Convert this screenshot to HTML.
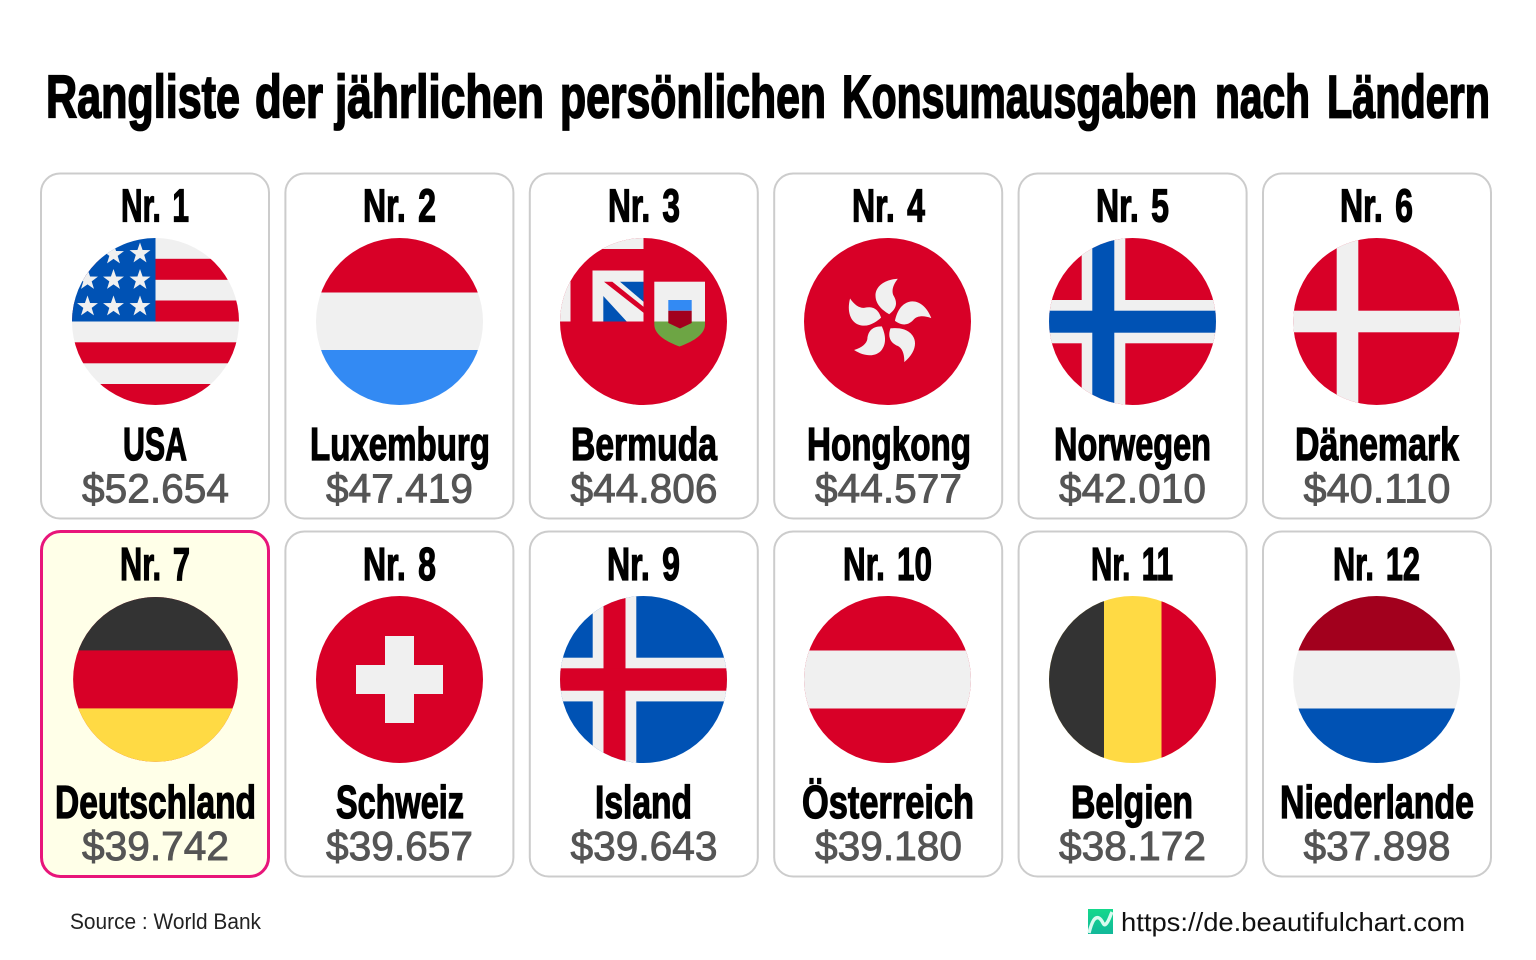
<!DOCTYPE html>
<html lang="de">
<head>
<meta charset="utf-8">
<title>Rangliste der jährlichen persönlichen Konsumausgaben nach Ländern</title>
<style>
html,body{margin:0;padding:0;background:#fff;width:1536px;height:960px;overflow:hidden}
svg{display:block}
text{font-family:"Liberation Sans",sans-serif}
.title{font-size:60px;font-weight:700;fill:#000;stroke:#000;stroke-width:1.8px}
.rank{font-size:46px;font-weight:700;fill:#000;stroke:#000;stroke-width:1.3px;word-spacing:5px}
.name{font-size:46px;font-weight:700;fill:#000;stroke:#000;stroke-width:1.3px}
.value{font-size:41px;fill:#555;stroke:#555;stroke-width:.9px}
.card{fill:#fff;stroke:#ccc;stroke-width:2}
.r{fill:#d80027}.w{fill:#f0f0f0}.b{fill:#0052b4}.l{fill:#338af3}.k{fill:#333}.y{fill:#ffda44}.m{fill:#a2001d}.g{fill:#6da544}
</style>
</head>
<body>
<svg xmlns="http://www.w3.org/2000/svg" width="1536" height="960" viewBox="0 0 1536 960">
<defs>
<clipPath id="c"><circle cx="0" cy="0" r="83.5"/></clipPath>
<clipPath id="cde"><circle cx="0" cy="0" r="82.4"/></clipPath>
<linearGradient id="lg" x1="0" y1="0" x2="0" y2="1"><stop offset="0" stop-color="#14d98c"/><stop offset="1" stop-color="#12b89a"/></linearGradient>
<polygon id="star" points="0,-11 2.59,-3.56 10.46,-3.4 4.18,1.36 6.47,8.9 0,4.4 -6.47,8.9 -4.18,1.36 -10.46,-3.4 -2.59,-3.56"/>
<path id="petal" d="M1.7,-7.3 C-3,-10 -12,-16 -12,-26 C-12,-35 -3,-42 10.3,-42.7 C5,-36 4,-30 6,-26 C9,-21 11,-14 1.7,-7.3 Z"/>
</defs>

<rect x="0" y="0" width="1536" height="960" fill="#fff"/>
<text class="title" y="117.5"><tspan x="46" textLength="194" lengthAdjust="spacingAndGlyphs">Rangliste</tspan> <tspan x="255" textLength="68" lengthAdjust="spacingAndGlyphs">der</tspan> <tspan x="335" textLength="209" lengthAdjust="spacingAndGlyphs">jährlichen</tspan> <tspan x="560" textLength="266" lengthAdjust="spacingAndGlyphs">persönlichen</tspan> <tspan x="842" textLength="355" lengthAdjust="spacingAndGlyphs">Konsumausgaben</tspan> <tspan x="1215" textLength="95" lengthAdjust="spacingAndGlyphs">nach</tspan> <tspan x="1327" textLength="163" lengthAdjust="spacingAndGlyphs">Ländern</tspan></text>

<!-- Nr 1 -->
<g>
<rect class="card" x="41" y="173.5" width="228" height="345" rx="19"/>
<text class="rank" x="121" y="221.5" textLength="68" lengthAdjust="spacingAndGlyphs">Nr. 1</text>
<g transform="translate(155.5,321.5)" clip-path="url(#c)">
<rect class="w" x="-84" y="-84" width="168" height="168"/>
<rect class="r" x="-84" y="-62.7" width="168" height="21"/>
<rect class="r" x="-84" y="-21" width="168" height="21"/>
<rect class="r" x="-84" y="20.8" width="168" height="21"/>
<rect class="r" x="-84" y="62.5" width="168" height="22"/>
<rect class="b" x="-84" y="-84" width="84" height="84"/>
<g class="w">
<use href="#star" x="-15.5" y="-68"/><use href="#star" x="-42" y="-67"/>
<use href="#star" x="-15.5" y="-41.5"/><use href="#star" x="-42" y="-41.5"/><use href="#star" x="-68" y="-41.5"/>
<use href="#star" x="-15.5" y="-15"/><use href="#star" x="-42" y="-15"/><use href="#star" x="-68" y="-15"/>
</g>
</g>
<text class="name" x="123" y="460" textLength="64" lengthAdjust="spacingAndGlyphs">USA</text>
<text class="value" x="82" y="502.5" textLength="147" lengthAdjust="spacingAndGlyphs">$52.654</text>
</g>

<!-- Nr 2 -->
<g>
<rect class="card" x="285.4" y="173.5" width="228" height="345" rx="19"/>
<text class="rank" x="363" y="221.5" textLength="73" lengthAdjust="spacingAndGlyphs">Nr. 2</text>
<g transform="translate(399.5,321.5)" clip-path="url(#c)">
<rect class="w" x="-84" y="-84" width="168" height="168"/>
<rect class="r" x="-84" y="-84" width="168" height="55"/>
<rect class="l" x="-84" y="28.5" width="168" height="56"/>
</g>
<text class="name" x="310" y="460" textLength="180" lengthAdjust="spacingAndGlyphs">Luxemburg</text>
<text class="value" x="326" y="502.5" textLength="147" lengthAdjust="spacingAndGlyphs">$47.419</text>
</g>

<!-- Nr 3 -->
<g>
<rect class="card" x="529.8" y="173.5" width="228" height="345" rx="19"/>
<text class="rank" x="608" y="221.5" textLength="72" lengthAdjust="spacingAndGlyphs">Nr. 3</text>
<g transform="translate(643.5,321.5)" clip-path="url(#c)">
<rect class="r" x="-84" y="-84" width="168" height="168"/>
<rect class="w" x="-84" y="-84" width="84" height="11.5"/>
<rect class="w" x="-84" y="-41.5" width="11" height="41.5"/>
<rect class="w" x="-51" y="-51" width="51" height="51"/>
<polygon class="b" points="-23.5,-39.8 0,-39.8 0,-19.8"/>
<polygon class="b" points="-40.2,-25.5 -40.2,0 -16.8,0"/>
<polygon class="r" points="-39.5,-39.8 -31.2,-39.8 0,-14.8 0,-8.8"/>
<rect class="w" x="10.8" y="-39.8" width="50.7" height="40"/>
<path class="g" d="M10.8 0H61.5V3C61.5 14 47 21 36 25C25 21 10.8 14 10.8 3Z"/>
<rect class="l" x="24.8" y="-21.5" width="23.4" height="10.7"/>
<polygon class="m" points="24.8,-10.8 48.2,-10.8 48.2,1.5 36.5,7 24.8,1.5"/>
</g>
<text class="name" x="571" y="460" textLength="146" lengthAdjust="spacingAndGlyphs">Bermuda</text>
<text class="value" x="570.5" y="502.5" textLength="147" lengthAdjust="spacingAndGlyphs">$44.806</text>
</g>

<!-- Nr 4 -->
<g>
<rect class="card" x="774.2" y="173.5" width="228" height="345" rx="19"/>
<text class="rank" x="852" y="221.5" textLength="73" lengthAdjust="spacingAndGlyphs">Nr. 4</text>
<g transform="translate(887.5,321.5)" clip-path="url(#c)">
<rect class="r" x="-84" y="-84" width="168" height="168"/>
<g class="w">
<use href="#petal"/>
<use href="#petal" transform="rotate(72)"/>
<use href="#petal" transform="rotate(144)"/>
<use href="#petal" transform="rotate(216)"/>
<use href="#petal" transform="rotate(288)"/>
</g>
</g>
<text class="name" x="807" y="460" textLength="164" lengthAdjust="spacingAndGlyphs">Hongkong</text>
<text class="value" x="815" y="502.5" textLength="147" lengthAdjust="spacingAndGlyphs">$44.577</text>
</g>

<!-- Nr 5 -->
<g>
<rect class="card" x="1018.6" y="173.5" width="228" height="345" rx="19"/>
<text class="rank" x="1096" y="221.5" textLength="73" lengthAdjust="spacingAndGlyphs">Nr. 5</text>
<g transform="translate(1132.5,321.5)" clip-path="url(#c)">
<rect class="r" x="-84" y="-84" width="168" height="168"/>
<rect class="w" x="-50.8" y="-84" width="43.6" height="168"/>
<rect class="w" x="-84" y="-21.5" width="168" height="43.3"/>
<rect class="b" x="-40.2" y="-84" width="22" height="168"/>
<rect class="b" x="-84" y="-10.8" width="168" height="22"/>
</g>
<text class="name" x="1054" y="460" textLength="157" lengthAdjust="spacingAndGlyphs">Norwegen</text>
<text class="value" x="1059" y="502.5" textLength="147" lengthAdjust="spacingAndGlyphs">$42.010</text>
</g>

<!-- Nr 6 -->
<g>
<rect class="card" x="1263" y="173.5" width="228" height="345" rx="19"/>
<text class="rank" x="1340" y="221.5" textLength="73" lengthAdjust="spacingAndGlyphs">Nr. 6</text>
<g transform="translate(1376.7,321.5)" clip-path="url(#c)">
<rect class="r" x="-84" y="-84" width="168" height="168"/>
<rect class="w" x="-40" y="-84" width="21.6" height="168"/>
<rect class="w" x="-84" y="-10.8" width="168" height="21.6"/>
</g>
<text class="name" x="1295" y="460" textLength="164" lengthAdjust="spacingAndGlyphs">Dänemark</text>
<text class="value" x="1303.5" y="502.5" textLength="147" lengthAdjust="spacingAndGlyphs">$40.110</text>
</g>

<!-- Nr 7 -->
<g>
<rect x="41.5" y="531.5" width="227" height="345" rx="19" fill="#ffffe8" stroke="#e8157a" stroke-width="3"/>
<text class="rank" x="120" y="580" textLength="70" lengthAdjust="spacingAndGlyphs">Nr. 7</text>
<g transform="translate(155.5,679.4)" clip-path="url(#cde)">
<rect class="r" x="-84" y="-84" width="168" height="168"/>
<rect class="k" x="-84" y="-84" width="168" height="55"/>
<rect class="y" x="-84" y="29" width="168" height="55"/>
</g>
<text class="name" x="55" y="818" textLength="201" lengthAdjust="spacingAndGlyphs">Deutschland</text>
<text class="value" x="82" y="860" textLength="147" lengthAdjust="spacingAndGlyphs">$39.742</text>
</g>

<!-- Nr 8 -->
<g>
<rect class="card" x="285.4" y="531.5" width="228" height="345" rx="19"/>
<text class="rank" x="363" y="580" textLength="73" lengthAdjust="spacingAndGlyphs">Nr. 8</text>
<g transform="translate(399.5,679.5)" clip-path="url(#c)">
<rect class="r" x="-84" y="-84" width="168" height="168"/>
<rect class="w" x="-43.5" y="-14.5" width="87" height="29"/>
<rect class="w" x="-14.5" y="-43.5" width="29" height="87"/>
</g>
<text class="name" x="336" y="818" textLength="128" lengthAdjust="spacingAndGlyphs">Schweiz</text>
<text class="value" x="326" y="860" textLength="147" lengthAdjust="spacingAndGlyphs">$39.657</text>
</g>

<!-- Nr 9 -->
<g>
<rect class="card" x="529.8" y="531.5" width="228" height="345" rx="19"/>
<text class="rank" x="607" y="580" textLength="73" lengthAdjust="spacingAndGlyphs">Nr. 9</text>
<g transform="translate(643.5,679.5)" clip-path="url(#c)">
<rect class="b" x="-84" y="-84" width="168" height="168"/>
<rect class="w" x="-50.8" y="-84" width="43.6" height="168"/>
<rect class="w" x="-84" y="-21.8" width="168" height="43.7"/>
<rect class="r" x="-40" y="-84" width="22" height="168"/>
<rect class="r" x="-84" y="-11.2" width="168" height="22.4"/>
</g>
<text class="name" x="595" y="818" textLength="97" lengthAdjust="spacingAndGlyphs">Island</text>
<text class="value" x="570.5" y="860" textLength="147" lengthAdjust="spacingAndGlyphs">$39.643</text>
</g>

<!-- Nr 10 -->
<g>
<rect class="card" x="774.2" y="531.5" width="228" height="345" rx="19"/>
<text class="rank" x="843" y="580" textLength="89" lengthAdjust="spacingAndGlyphs">Nr. 10</text>
<g transform="translate(887.5,679.5)" clip-path="url(#c)">
<rect class="r" x="-84" y="-84" width="168" height="168"/>
<rect class="w" x="-84" y="-29" width="168" height="58"/>
</g>
<text class="name" x="802" y="818" textLength="172" lengthAdjust="spacingAndGlyphs">Österreich</text>
<text class="value" x="815" y="860" textLength="147" lengthAdjust="spacingAndGlyphs">$39.180</text>
</g>

<!-- Nr 11 -->
<g>
<rect class="card" x="1018.6" y="531.5" width="228" height="345" rx="19"/>
<text class="rank" x="1091" y="580" textLength="82" lengthAdjust="spacingAndGlyphs">Nr. 11</text>
<g transform="translate(1132.5,679.5)" clip-path="url(#c)">
<rect class="y" x="-84" y="-84" width="168" height="168"/>
<rect class="k" x="-84" y="-84" width="55.5" height="168"/>
<rect class="r" x="29" y="-84" width="55" height="168"/>
</g>
<text class="name" x="1071" y="818" textLength="122" lengthAdjust="spacingAndGlyphs">Belgien</text>
<text class="value" x="1059" y="860" textLength="147" lengthAdjust="spacingAndGlyphs">$38.172</text>
</g>

<!-- Nr 12 -->
<g>
<rect class="card" x="1263" y="531.5" width="228" height="345" rx="19"/>
<text class="rank" x="1333" y="580" textLength="87" lengthAdjust="spacingAndGlyphs">Nr. 12</text>
<g transform="translate(1376.7,679.5)" clip-path="url(#c)">
<rect class="w" x="-84" y="-84" width="168" height="168"/>
<rect class="m" x="-84" y="-84" width="168" height="55"/>
<rect class="b" x="-84" y="29" width="168" height="55"/>
</g>
<text class="name" x="1280" y="818" textLength="194" lengthAdjust="spacingAndGlyphs">Niederlande</text>
<text class="value" x="1303.5" y="860" textLength="147" lengthAdjust="spacingAndGlyphs">$37.898</text>
</g>

<!-- Footer -->
<text x="70" y="929" font-size="22" fill="#222" textLength="191" lengthAdjust="spacingAndGlyphs">Source : World Bank</text>
<g>
<rect x="1088" y="909" width="25" height="25" fill="url(#lg)"/>
<path d="M1089 933C1092 921 1095 916 1099 918C1103 920 1103 927 1106 924C1109 921 1110 916 1112 912" fill="none" stroke="#d9fbf0" stroke-width="3.4"/>
</g>
<text x="1121" y="931" font-size="26" fill="#111" textLength="344" lengthAdjust="spacingAndGlyphs">https://de.beautifulchart.com</text>
</svg>
</body>
</html>
